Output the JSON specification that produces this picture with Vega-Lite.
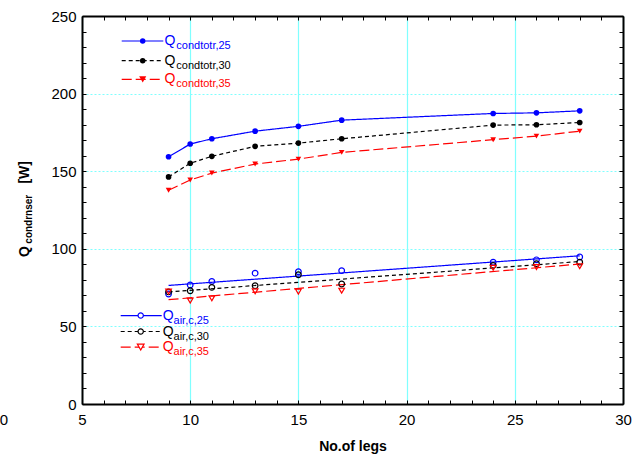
{
  "$schema": "https://vega.github.io/schema/vega-lite/v6.json",
  "width": 541,
  "height": 388,
  "autosize": {"type": "none"},
  "padding": {"left": 82, "top": 16, "right": 10, "bottom": 53},
  "background": "white",
  "config": {
    "view": {"stroke": null},
    "font": "Liberation Sans",
    "axis": {"labelFont": "Liberation Sans", "titleFont": "Liberation Sans"}
  },
  "datasets": {
    "top": [
      {"legs": 9, "Q": 159.3, "series": "cond25"},
      {"legs": 10, "Q": 167.5, "series": "cond25"},
      {"legs": 11, "Q": 170.9, "series": "cond25"},
      {"legs": 13, "Q": 175.8, "series": "cond25"},
      {"legs": 15, "Q": 178.9, "series": "cond25"},
      {"legs": 17, "Q": 182.9, "series": "cond25"},
      {"legs": 24, "Q": 187.2, "series": "cond25"},
      {"legs": 26, "Q": 187.6, "series": "cond25"},
      {"legs": 28, "Q": 188.9, "series": "cond25"},
      {"legs": 9, "Q": 146.3, "series": "cond30"},
      {"legs": 10, "Q": 155.1, "series": "cond30"},
      {"legs": 11, "Q": 159.6, "series": "cond30"},
      {"legs": 13, "Q": 166.0, "series": "cond30"},
      {"legs": 15, "Q": 168.1, "series": "cond30"},
      {"legs": 17, "Q": 170.9, "series": "cond30"},
      {"legs": 24, "Q": 179.7, "series": "cond30"},
      {"legs": 26, "Q": 179.9, "series": "cond30"},
      {"legs": 28, "Q": 181.4, "series": "cond30"},
      {"legs": 9, "Q": 137.7, "series": "cond35"},
      {"legs": 10, "Q": 144.3, "series": "cond35"},
      {"legs": 11, "Q": 148.8, "series": "cond35"},
      {"legs": 13, "Q": 154.6, "series": "cond35"},
      {"legs": 15, "Q": 157.8, "series": "cond35"},
      {"legs": 17, "Q": 162.1, "series": "cond35"},
      {"legs": 24, "Q": 170.3, "series": "cond35"},
      {"legs": 26, "Q": 172.6, "series": "cond35"},
      {"legs": 28, "Q": 175.8, "series": "cond35"}
    ],
    "bottom": [
      {"legs": 9, "Q": 70.9, "series": "air25"},
      {"legs": 10, "Q": 76.7, "series": "air25"},
      {"legs": 11, "Q": 79.0, "series": "air25"},
      {"legs": 13, "Q": 84.3, "series": "air25"},
      {"legs": 15, "Q": 85.2, "series": "air25"},
      {"legs": 17, "Q": 85.9, "series": "air25"},
      {"legs": 24, "Q": 91.4, "series": "air25"},
      {"legs": 26, "Q": 92.9, "series": "air25"},
      {"legs": 28, "Q": 94.7, "series": "air25"},
      {"legs": 9, "Q": 72.2, "series": "air30"},
      {"legs": 10, "Q": 73.0, "series": "air30"},
      {"legs": 11, "Q": 75.1, "series": "air30"},
      {"legs": 13, "Q": 76.2, "series": "air30"},
      {"legs": 15, "Q": 83.3, "series": "air30"},
      {"legs": 17, "Q": 77.3, "series": "air30"},
      {"legs": 24, "Q": 89.3, "series": "air30"},
      {"legs": 26, "Q": 90.4, "series": "air30"},
      {"legs": 28, "Q": 91.4, "series": "air30"},
      {"legs": 9, "Q": 72.5, "series": "air35"},
      {"legs": 10, "Q": 66.7, "series": "air35"},
      {"legs": 11, "Q": 68.1, "series": "air35"},
      {"legs": 13, "Q": 72.6, "series": "air35"},
      {"legs": 15, "Q": 72.4, "series": "air35"},
      {"legs": 17, "Q": 73.0, "series": "air35"},
      {"legs": 24, "Q": 87.8, "series": "air35"},
      {"legs": 26, "Q": 88.2, "series": "air35"},
      {"legs": 28, "Q": 88.8, "series": "air35"}
    ],
    "fits": [
      {"legs": 9, "Q": 76.4, "series": "air25"},
      {"legs": 28, "Q": 95.5, "series": "air25"},
      {"legs": 9, "Q": 72.2, "series": "air30"},
      {"legs": 28, "Q": 91.8, "series": "air30"},
      {"legs": 9, "Q": 67.2, "series": "air35"},
      {"legs": 28, "Q": 90.2, "series": "air35"}
    ]
  },
  "resolve": {"axis": {"x": "independent", "y": "independent"}},
  "layer": [
    {
      "data": {"name": "top"},
      "mark": {"type": "line", "strokeWidth": 1.2},
      "encoding": {
        "x": {"field": "legs", "type": "quantitative",
          "scale": {"domain": [5, 30], "nice": false, "zero": false},
          "axis": {"orient": "bottom", "values": [5, 10, 15, 20, 25, 30], "ticks": false, "labelFontSize": 15, "labelColor": "black", "labelPadding": 8, "labelFlush": false, "labelOverlap": false, "domain": true, "domainColor": "black", "domainWidth": 2, "grid": true, "gridColor": "#80ffff", "gridWidth": 1.2, "gridOpacity": 1, "title": "No.of legs", "titleFontSize": 14, "titleFontWeight": "bold", "titleColor": "black", "titlePadding": 12}},
        "y": {"field": "Q", "type": "quantitative",
          "scale": {"domain": [0, 250], "nice": false, "zero": true},
          "axis": {"orient": "left", "values": [0, 50, 100, 150, 200, 250], "ticks": false, "labelFontSize": 15, "labelColor": "black", "labelPadding": 6, "labelFlush": false, "labelOverlap": false, "domain": true, "domainColor": "black", "domainWidth": 2, "grid": true, "gridColor": "#80ffff", "gridWidth": 1.2, "gridDash": [2, 2], "gridOpacity": 1, "title": null}},
        "color": {"field": "series", "type": "nominal", "legend": null,
          "scale": {"domain": ["cond25", "cond30", "cond35", "air25", "air30", "air35"], "range": ["#0000ff", "#000000", "#ff0000", "#0000ff", "#000000", "#ff0000"]}},
        "strokeDash": {"field": "series", "type": "nominal", "legend": null,
          "scale": {"domain": ["cond25", "cond30", "cond35", "air25", "air30", "air35"], "range": [[1, 0], [4, 3], [10, 4], [1, 0], [4, 3], [10, 4]]}},
        "order": {"field": "legs", "type": "quantitative"}
      }
    },
    {
      "data": {"name": "fits"},
      "mark": {"type": "line", "strokeWidth": 1.2},
      "encoding": {
        "x": {"field": "legs", "type": "quantitative",
          "axis": {"orient": "bottom", "values": [5,6,7,8,9,10,11,12,13,14,15,16,17,18,19,20,21,22,23,24,25,26,27,28,29,30], "ticks": true, "tickSize": -4, "tickColor": "black", "tickWidth": 1, "labels": false, "domain": false, "grid": false, "title": null}},
        "y": {"field": "Q", "type": "quantitative",
          "axis": {"orient": "left", "values": [0,10,20,30,40,50,60,70,80,90,100,110,120,130,140,150,160,170,180,190,200,210,220,230,240,250], "ticks": true, "tickSize": -4, "tickColor": "black", "tickWidth": 1, "labels": false, "domain": false, "grid": false, "title": null}},
        "color": {"field": "series", "type": "nominal", "legend": null},
        "strokeDash": {"field": "series", "type": "nominal", "legend": null},
        "order": {"field": "legs", "type": "quantitative"}
      }
    },
    {
      "data": {"name": "top"},
      "mark": {"type": "point", "filled": true, "opacity": 1},
      "encoding": {
        "x": {"field": "legs", "type": "quantitative",
          "axis": {"orient": "top", "values": [5,6,7,8,9,10,11,12,13,14,15,16,17,18,19,20,21,22,23,24,25,26,27,28,29,30], "ticks": true, "tickSize": -4, "tickColor": "black", "tickWidth": 1, "labels": false, "domain": true, "domainColor": "black", "domainWidth": 2, "grid": false, "title": null}},
        "y": {"field": "Q", "type": "quantitative",
          "axis": {"orient": "right", "values": [0,10,20,30,40,50,60,70,80,90,100,110,120,130,140,150,160,170,180,190,200,210,220,230,240,250], "ticks": true, "tickSize": -4, "tickColor": "black", "tickWidth": 1, "labels": false, "domain": true, "domainColor": "black", "domainWidth": 2, "grid": false, "title": null}},
        "color": {"field": "series", "type": "nominal", "legend": null},
        "shape": {"field": "series", "type": "nominal", "legend": null,
          "scale": {"domain": ["cond25", "cond30", "cond35", "air25", "air30", "air35"], "range": ["circle", "circle", "triangle-down", "circle", "circle", "triangle-down"]}},
        "size": {"field": "series", "type": "nominal", "legend": null,
          "scale": {"domain": ["cond25", "cond30", "cond35", "air25", "air30", "air35"], "range": [32, 32, 50, 30, 30, 45]}}
      }
    },
    {
      "data": {"name": "bottom"},
      "mark": {"type": "point", "filled": false, "strokeWidth": 1.2, "opacity": 1},
      "encoding": {
        "x": {"field": "legs", "type": "quantitative", "axis": null},
        "y": {"field": "Q", "type": "quantitative", "axis": null},
        "color": {"field": "series", "type": "nominal", "legend": null},
        "shape": {"field": "series", "type": "nominal", "legend": null},
        "size": {"field": "series", "type": "nominal", "legend": null}
      }
    },
    {
      "data": {"values": [{}]},
      "encoding": {"y": {"datum": 233.9, "type": "quantitative", "axis": null}},
      "layer": [
        {"mark": {"type": "rule", "color": "#0000ff", "strokeWidth": 1.2}, "encoding": {"x": {"datum": 6.835, "type": "quantitative", "axis": null}, "x2": {"datum": 8.757}}},
        {"mark": {"type": "point", "shape": "circle", "filled": true, "color": "#0000ff", "size": 30, "opacity": 1}, "encoding": {"x": {"datum": 7.805, "type": "quantitative", "axis": null}}},
        {"mark": {"type": "text", "text": "Q", "fontSize": 14, "color": "#0000ff", "align": "left", "baseline": "middle"}, "encoding": {"x": {"datum": 8.812, "type": "quantitative", "axis": null}}},
        {"mark": {"type": "text", "text": "condtotr,25", "fontSize": 11, "dy": 5, "color": "#0000ff", "align": "left", "baseline": "middle"}, "encoding": {"x": {"datum": 9.358, "type": "quantitative", "axis": null}}}
      ]
    },
    {
      "data": {"values": [{}]},
      "encoding": {"y": {"datum": 221.2, "type": "quantitative", "axis": null}},
      "layer": [
        {"mark": {"type": "rule", "color": "#000000", "strokeWidth": 1.2, "strokeDash": [4, 3]}, "encoding": {"x": {"datum": 6.835, "type": "quantitative", "axis": null}, "x2": {"datum": 8.757}}},
        {"mark": {"type": "point", "shape": "circle", "filled": true, "color": "#000000", "size": 30, "opacity": 1}, "encoding": {"x": {"datum": 7.805, "type": "quantitative", "axis": null}}},
        {"mark": {"type": "text", "text": "Q", "fontSize": 14, "color": "#000000", "align": "left", "baseline": "middle"}, "encoding": {"x": {"datum": 8.812, "type": "quantitative", "axis": null}}},
        {"mark": {"type": "text", "text": "condtotr,30", "fontSize": 11, "dy": 5, "color": "#000000", "align": "left", "baseline": "middle"}, "encoding": {"x": {"datum": 9.358, "type": "quantitative", "axis": null}}}
      ]
    },
    {
      "data": {"values": [{}]},
      "encoding": {"y": {"datum": 209.2, "type": "quantitative", "axis": null}},
      "layer": [
        {"mark": {"type": "rule", "color": "#ff0000", "strokeWidth": 1.2, "strokeDash": [10, 4]}, "encoding": {"x": {"datum": 6.835, "type": "quantitative", "axis": null}, "x2": {"datum": 8.757}}},
        {"mark": {"type": "point", "shape": "triangle-down", "filled": true, "color": "#ff0000", "size": 50, "opacity": 1}, "encoding": {"x": {"datum": 7.805, "type": "quantitative", "axis": null}}},
        {"mark": {"type": "text", "text": "Q", "fontSize": 14, "color": "#ff0000", "align": "left", "baseline": "middle"}, "encoding": {"x": {"datum": 8.812, "type": "quantitative", "axis": null}}},
        {"mark": {"type": "text", "text": "condtotr,35", "fontSize": 11, "dy": 5, "color": "#ff0000", "align": "left", "baseline": "middle"}, "encoding": {"x": {"datum": 9.358, "type": "quantitative", "axis": null}}}
      ]
    },
    {
      "data": {"values": [{}]},
      "encoding": {"y": {"datum": 57.0, "type": "quantitative", "axis": null}},
      "layer": [
        {"mark": {"type": "rule", "color": "#0000ff", "strokeWidth": 1.2}, "encoding": {"x": {"datum": 6.788, "type": "quantitative", "axis": null}, "x2": {"datum": 8.683}}},
        {"mark": {"type": "point", "shape": "circle", "filled": false, "strokeWidth": 1.2, "color": "#0000ff", "fill": "white", "size": 28, "opacity": 1}, "encoding": {"x": {"datum": 7.713, "type": "quantitative", "axis": null}}},
        {"mark": {"type": "text", "text": "Q", "fontSize": 14, "color": "#0000ff", "align": "left", "baseline": "middle"}, "encoding": {"x": {"datum": 8.729, "type": "quantitative", "axis": null}}},
        {"mark": {"type": "text", "text": "air,c,25", "fontSize": 11, "dy": 5, "color": "#0000ff", "align": "left", "baseline": "middle"}, "encoding": {"x": {"datum": 9.229, "type": "quantitative", "axis": null}}}
      ]
    },
    {
      "data": {"values": [{}]},
      "encoding": {"y": {"datum": 46.7, "type": "quantitative", "axis": null}},
      "layer": [
        {"mark": {"type": "rule", "color": "#000000", "strokeWidth": 1.2, "strokeDash": [4, 3]}, "encoding": {"x": {"datum": 6.788, "type": "quantitative", "axis": null}, "x2": {"datum": 8.683}}},
        {"mark": {"type": "point", "shape": "circle", "filled": false, "strokeWidth": 1.2, "color": "#000000", "fill": "white", "size": 28, "opacity": 1}, "encoding": {"x": {"datum": 7.713, "type": "quantitative", "axis": null}}},
        {"mark": {"type": "text", "text": "Q", "fontSize": 14, "color": "#000000", "align": "left", "baseline": "middle"}, "encoding": {"x": {"datum": 8.729, "type": "quantitative", "axis": null}}},
        {"mark": {"type": "text", "text": "air,c,30", "fontSize": 11, "dy": 5, "color": "#000000", "align": "left", "baseline": "middle"}, "encoding": {"x": {"datum": 9.229, "type": "quantitative", "axis": null}}}
      ]
    },
    {
      "data": {"values": [{}]},
      "encoding": {"y": {"datum": 36.7, "type": "quantitative", "axis": null}},
      "layer": [
        {"mark": {"type": "rule", "color": "#ff0000", "strokeWidth": 1.2, "strokeDash": [10, 4]}, "encoding": {"x": {"datum": 6.788, "type": "quantitative", "axis": null}, "x2": {"datum": 8.683}}},
        {"mark": {"type": "point", "shape": "triangle-down", "filled": false, "strokeWidth": 1.2, "color": "#ff0000", "fill": "white", "size": 45, "opacity": 1}, "encoding": {"x": {"datum": 7.713, "type": "quantitative", "axis": null}}},
        {"mark": {"type": "text", "text": "Q", "fontSize": 14, "color": "#ff0000", "align": "left", "baseline": "middle"}, "encoding": {"x": {"datum": 8.729, "type": "quantitative", "axis": null}}},
        {"mark": {"type": "text", "text": "air,c,35", "fontSize": 11, "dy": 5, "color": "#ff0000", "align": "left", "baseline": "middle"}, "encoding": {"x": {"datum": 9.229, "type": "quantitative", "axis": null}}}
      ]
    },
    {
      "data": {"values": [{}]},
      "layer": [
        {"mark": {"type": "text", "text": "Q", "fontSize": 14, "fontWeight": "bold", "color": "black", "angle": 270, "align": "left", "baseline": "middle"}, "encoding": {"x": {"datum": 2.343, "type": "quantitative", "axis": null}, "y": {"datum": 94.7, "type": "quantitative", "axis": null}}},
        {"mark": {"type": "text", "text": "condrnser", "fontSize": 10, "fontWeight": "bold", "color": "black", "angle": 270, "align": "left", "baseline": "middle"}, "encoding": {"x": {"datum": 2.551, "type": "quantitative", "axis": null}, "y": {"datum": 103.3, "type": "quantitative", "axis": null}}},
        {"mark": {"type": "text", "text": "[W]", "fontSize": 14, "fontWeight": "bold", "color": "black", "angle": 270, "align": "left", "baseline": "middle"}, "encoding": {"x": {"datum": 2.343, "type": "quantitative", "axis": null}, "y": {"datum": 142.0, "type": "quantitative", "axis": null}}},
        {"mark": {"type": "text", "text": "0", "fontSize": 15, "color": "black", "align": "right", "baseline": "middle"}, "encoding": {"x": {"datum": 1.58, "type": "quantitative", "axis": null}, "y": {"datum": -10.3, "type": "quantitative", "axis": null}}}
      ]
    }
  ]
}
